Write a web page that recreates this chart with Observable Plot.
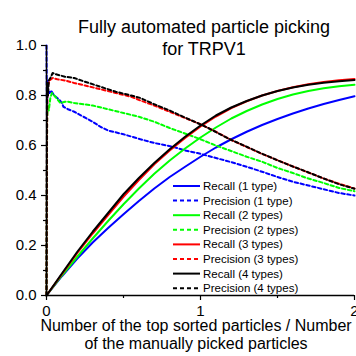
<!DOCTYPE html>
<html><head><meta charset="utf-8">
<script src="https://cdn.jsdelivr.net/npm/d3@7"></script>
<script src="https://cdn.jsdelivr.net/npm/@observablehq/plot@0.6"></script>
<style>body{margin:0;background:#fff} svg{display:block}</style>
</head><body><div id="chart"></div><script>
// ---------- data ----------
const titleLines = ["Fully automated particle picking", "for TRPV1"];
const xLabelLines = ["Number of the top sorted particles / Number", "of the manually picked particles"];
const xMajorTicks = [0, 1, 2];
const xMinorTicks = [0.5, 1.5];
const yMajorTicks = [0, 0.2, 0.4, 0.6, 0.8, 1.0];
const yMinorTicks = [0.1, 0.3, 0.5, 0.7, 0.9];

const recallX = [0,0.1,0.2,0.3,0.4,0.5,0.6,0.7,0.8,0.9,1.0,1.1,1.2,1.3,1.4,1.5,1.6,1.7,1.8,1.9,2.0];
const recall1 = [0,.077,.148,.212,.27,.325,.378,.428,.474,.515,.555,.592,.625,.655,.682,.706,.728,.748,.766,.782,.797];
const recall2 = [0,.08,.155,.228,.298,.365,.428,.487,.54,.588,.632,.672,.708,.738,.764,.786,.804,.818,.829,.837,.843];
const recall3 = [0,.085,.17,.248,.322,.395,.462,.525,.58,.63,.676,.716,.75,.777,.80,.818,.833,.845,.854,.861,.866];
const recall4 = [0,.088,.175,.255,.33,.405,.47,.53,.585,.635,.68,.72,.752,.778,.80,.818,.832,.843,.851,.857,.862];

const precX1 = [0,0.003,0.006,0.01,0.02,0.03,0.05,0.08,0.1,0.11,0.14,0.18,0.24,0.3,0.35,0.4,0.5,0.61,0.7,0.82,0.9,0.98,1.1,1.19,1.3,1.4,1.52,1.6,1.7,1.8,1.9,2.0];
const prec1  = [1.0,0.7,0.86,0.82,0.81,0.82,0.80,0.785,0.77,0.755,0.745,0.735,0.715,0.695,0.675,0.66,0.645,0.625,0.61,0.595,0.58,0.57,0.55,0.535,0.515,0.495,0.47,0.455,0.44,0.425,0.41,0.40];
const precX2 = [0,0.004,0.008,0.015,0.025,0.035,0.05,0.07,0.09,0.12,0.14,0.18,0.24,0.3,0.4,0.5,0.6,0.7,0.8,0.89,1.0,1.1,1.19,1.3,1.4,1.5,1.6,1.69,1.8,1.9,2.0];
const prec2  = [0,0.7,0.76,0.74,0.79,0.81,0.80,0.785,0.77,0.775,0.775,0.77,0.765,0.76,0.745,0.73,0.715,0.695,0.67,0.65,0.625,0.60,0.58,0.555,0.535,0.51,0.49,0.47,0.45,0.43,0.417];
const precX3 = [0,0.003,0.006,0.01,0.02,0.04,0.07,0.12,0.18,0.25,0.35,0.45,0.55,0.61,0.7,0.8,0.9,1.0,1.1,1.2,1.3,1.4,1.5,1.6,1.7,1.8,1.9,2.0];
const prec3  = [0,0.6,0.82,0.84,0.86,0.87,0.865,0.86,0.85,0.84,0.825,0.81,0.795,0.78,0.76,0.735,0.71,0.685,0.655,0.622,0.594,0.566,0.541,0.516,0.492,0.468,0.447,0.428];
const precX4 = [0,0.003,0.006,0.01,0.015,0.025,0.04,0.06,0.09,0.12,0.18,0.25,0.35,0.45,0.55,0.61,0.7,0.8,0.87,0.98,1.05,1.19,1.3,1.4,1.5,1.6,1.69,1.8,1.9,2.0];
const prec4  = [0,0.75,0.85,0.80,0.86,0.87,0.89,0.885,0.88,0.875,0.87,0.855,0.835,0.815,0.80,0.79,0.765,0.74,0.72,0.69,0.67,0.625,0.595,0.567,0.541,0.516,0.495,0.468,0.445,0.427];

const seriesNames  = ["Recall (1 type)","Precision (1 type)","Recall (2 types)","Precision (2 types)","Recall (3 types)","Precision (3 types)","Recall (4 types)","Precision (4 types)"];
const seriesColors = ["#0000ff","#0000ff","#00ff00","#00ff00","#ff0000","#ff0000","#000000","#000000"];
const seriesDashed = [false,true,false,true,false,true,false,true];
const seriesX = [recallX, precX1, recallX, precX2, recallX, precX3, recallX, precX4];
const seriesY = [recall1, prec1, recall2, prec2, recall3, prec3, recall4, prec4];

// ---------- build ----------
const FONT = "'Liberation Sans', Arial, Helvetica, sans-serif";
const lineMarks = seriesNames.map((name, i) => {
  const rows = seriesX[i].map((x, j) => ({x, y: seriesY[i][j]}));
  return Plot.line(rows, {
    x: "x", y: "y", stroke: seriesColors[i], strokeWidth: 2,
    strokeDasharray: seriesDashed[i] ? "3.5,2.5" : null
  });
});

const W = 356, H = 356, mL = 46, mR = 2, mT = 45, mB = 61;
const plot = Plot.plot({
  width: W, height: H,
  marginLeft: mL, marginRight: mR, marginTop: mT, marginBottom: mB,
  style: {fontFamily: FONT, background: "white", color: "black", overflow: "visible"},
  x: {domain: [0, 2], label: null},
  y: {domain: [0, 1], label: null},
  marks: [
    ...lineMarks,
    Plot.axisY(yMinorTicks, {tickSize: 3, tickFormat: () => "", label: null, strokeWidth: 1.2}),
    Plot.axisY(yMajorTicks, {tickSize: 5, tickPadding: 5, tickFormat: d => d.toFixed(1), fontSize: 15, label: null, strokeWidth: 1.2}),
    Plot.axisX(xMinorTicks, {tickSize: 3, tickFormat: () => "", label: null, strokeWidth: 1.2}),
    Plot.axisX(xMajorTicks, {tickSize: 5, tickPadding: 5, tickFormat: d => String(d), fontSize: 15, label: null, strokeWidth: 1.2}),
    Plot.ruleX([0], {strokeWidth: 1.5}),
    Plot.ruleY([0], {strokeWidth: 1.5})
  ]
});
document.getElementById("chart").appendChild(plot);

const svg = d3.select(plot);
// title
const t = svg.append("text").attr("text-anchor", "middle").attr("font-size", 18)
  .attr("font-family", FONT).attr("fill", "black");
titleLines.forEach((s, i) => t.append("tspan").attr("x", 204).attr("y", 33 + i * 22).text(s));
// x-axis label
const xl = svg.append("text").attr("text-anchor", "middle").attr("font-size", 16)
  .attr("font-family", FONT).attr("fill", "black");
xLabelLines.forEach((s, i) => xl.append("tspan").attr("x", 196).attr("y", 331 + i * 18).text(s));
// legend
const lg = svg.append("g").attr("font-family", FONT).attr("font-size", 11.5).attr("text-anchor", "start");
seriesNames.forEach((name, i) => {
  const y = 186 + i * 14.6;
  lg.append("line").attr("x1", 173).attr("x2", 200).attr("y1", y).attr("y2", y)
    .attr("stroke", seriesColors[i]).attr("stroke-width", 2)
    .attr("stroke-dasharray", seriesDashed[i] ? "4,3" : null);
  lg.append("text").attr("x", 203).attr("y", y).attr("dy", "0.35em").attr("fill", "black")
    .attr("text-anchor", "start").text(name);
});
</script></body></html>
